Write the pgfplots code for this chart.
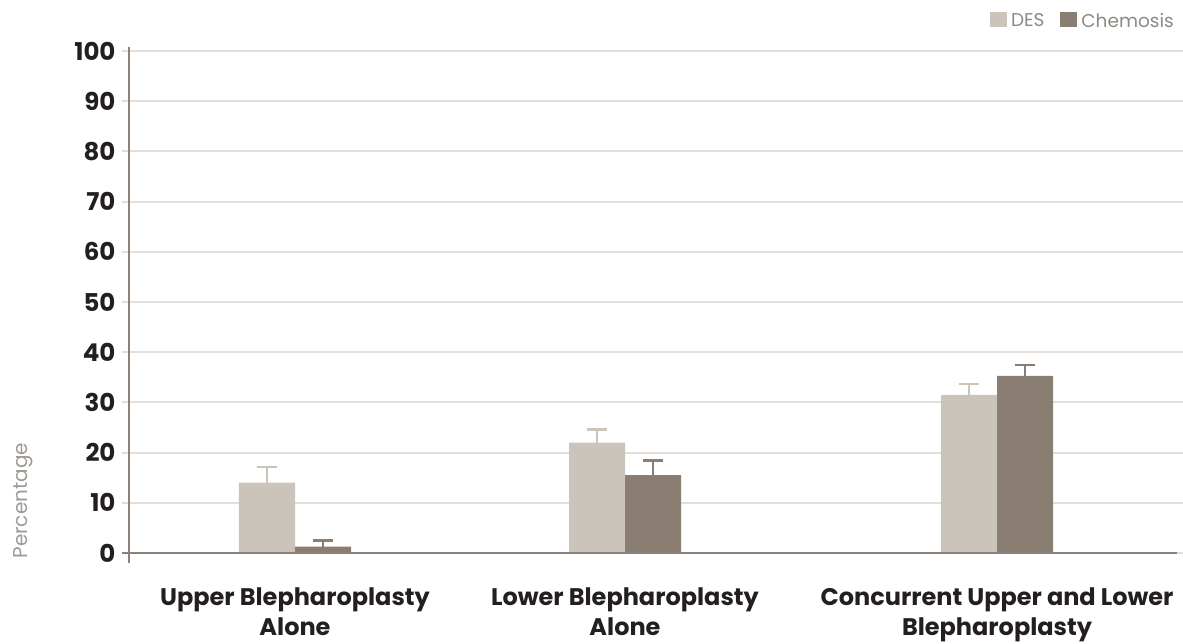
\documentclass[border=0pt]{standalone}
\usepackage{pgfplots}
\pgfplotsset{compat=1.18}
\usepackage{fontspec}
\setmainfont{Poppins}
\definecolor{des}{HTML}{CBC4BA}
\definecolor{chem}{HTML}{8A7D72}
\definecolor{gridc}{HTML}{E2DEDA}
\definecolor{axisc}{HTML}{8C8078}
\definecolor{txt}{HTML}{231F20}
\definecolor{lbl}{HTML}{8E8883}
\begin{document}
\begin{tikzpicture}
\path[use as bounding box] (-129pt,-90pt) rectangle (1054pt,553pt);
\begin{axis}[
  scale only axis, width=1048pt, height=502pt,
  at={(0pt,0pt)}, anchor=south west,
  xmin=0, xmax=1048, ymin=0, ymax=100,
  clip=false,
  axis line style={draw=none},
  ytick={0,10,...,100},
  ymajorgrids, grid style={gridc, line width=2pt},
  ytick style={gridc, line width=2pt},
  tick align=outside, major tick length=7pt,
  xtick={166,496,868},
  xticklabels={Upper Blepharoplasty\\Alone, Lower Blepharoplasty\\Alone, Concurrent Upper and Lower\\Blepharoplasty},
  xtick style={draw=none},
  xticklabel style={align=center, font=\bfseries\fontsize{24}{30}\selectfont, text=txt, yshift=-24pt},
  yticklabel style={font=\bfseries\fontsize{24.5}{28}\selectfont, text=txt, xshift=-3pt},
  /pgf/number format/assume math mode=true,
  ybar, bar width=56,
  legend columns=2,
  legend style={at={(rel axis cs:1,1)}, anchor=south east, xshift=4pt, yshift=18pt, draw=none, fill=none,
    font=\fontsize{18.5}{22}\selectfont, text=lbl,
    nodes={inner xsep=4pt},
    /tikz/every even column/.append style={column sep=12pt}},
  legend image code/.code={\fill[#1] (0pt,-6pt) rectangle (17pt,9pt);},
]
\addplot[fill=des, draw=none, bar shift=-28,
  error bars/.cd, y dir=plus, y explicit, error mark=|,
  error bar style={des, line width=2.5pt},
  error mark options={des, line width=2.5pt, mark size=10pt}]
  coordinates {(166,14.0) +- (0,3.1) (496,22.0) +- (0,2.6) (868,31.5) +- (0,2.2)};
\addplot[fill=chem, draw=none, bar shift=28,
  error bars/.cd, y dir=plus, y explicit, error mark=|,
  error bar style={chem, line width=2.5pt},
  error mark options={chem, line width=2.5pt, mark size=10pt}]
  coordinates {(166,1.26) +- (0,1.25) (496,15.5) +- (0,2.9) (868,35.3) +- (0,2.2)};
\legend{DES, Chemosis}
\draw[axisc, line width=2pt] (axis cs:0,-1.9) -- (axis cs:0,100.8);
\draw[axisc, line width=2.5pt] (axis cs:-7,0) -- (axis cs:1048,0);
\node[rotate=90, font=\fontsize{20}{24}\selectfont, text=lbl!85] at (axis cs:-106,10.4) {Percentage};
\end{axis}
\end{tikzpicture}
\end{document}
